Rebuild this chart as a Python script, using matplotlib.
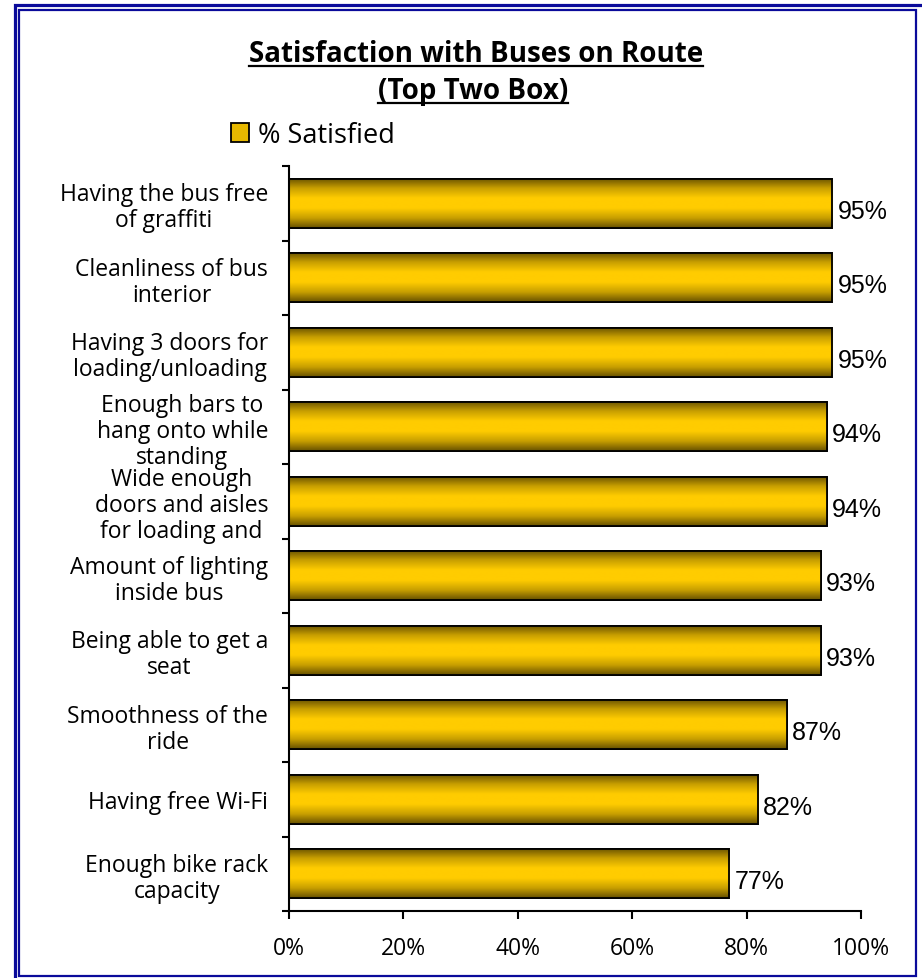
import numpy as np
import matplotlib
matplotlib.use("Agg")
import matplotlib.pyplot as plt
from matplotlib.colors import LinearSegmentedColormap
from matplotlib.patches import Rectangle, Patch
from matplotlib.lines import Line2D

# Data (top to bottom)
categories = [
    "Having the bus free\nof graffiti",
    "Cleanliness of bus\ninterior",
    "Having 3 doors for\nloading/unloading",
    "Enough bars to\nhang onto while\nstanding",
    "Wide enough\ndoors and aisles\nfor loading and",
    "Amount of lighting\ninside bus",
    "Being able to get a\nseat",
    "Smoothness of the\nride",
    "Having free Wi-Fi",
    "Enough bike rack\ncapacity",
]
satisfied = [95, 95, 95, 94, 94, 93, 93, 87, 82, 77]
xticks = [0, 20, 40, 60, 80, 100]
xtick_labels = ["0%", "20%", "40%", "60%", "80%", "100%"]

W, H = 922, 979
fig = plt.figure(figsize=(W / 100, H / 100), dpi=100)
fig.patch.set_facecolor("white")

lab_font = "Open Sans"
num_font = "Liberation Sans"

# double blue frame
fig.add_artist(Rectangle((14.5 / W, 1 - 990 / H), (940 - 14.5) / W, (990 - 5.5) / H,
                         transform=fig.transFigure, fill=False, edgecolor="#0a0a9a", lw=2.3))
fig.add_artist(Rectangle((19 / W, 1 - 977 / H), (916 - 19) / W, (977 - 11) / H,
                         transform=fig.transFigure, fill=False, edgecolor="#0a0a9a", lw=1.6))

ax = fig.add_axes([289 / W, 1 - 912 / H, 572 / W, 745 / H])
y = np.arange(len(categories))
bars = ax.barh(y, satisfied, height=0.66, color="#ffcc00", edgecolor="black", linewidth=1.3, zorder=2)

# vertical gold gradient on each bar
cmap = LinearSegmentedColormap.from_list("gold", ["#665000", "#c89f00", "#ffcc00", "#ffcc00", "#c89f00", "#665000"])
grad = np.linspace(0, 1, 256).reshape(-1, 1)
for b in bars:
    x0, y0, w, h = b.get_x(), b.get_y(), b.get_width(), b.get_height()
    im = ax.imshow(grad, extent=(x0, x0 + w, y0 + h, y0), aspect="auto", cmap=cmap, zorder=2.5)
    im.set_clip_path(b)
    ax.add_patch(Rectangle((x0, y0), w, h, fill=False, edgecolor="black", lw=1.3, zorder=3))

for yi, v in zip(y, satisfied):
    ax.text(v + 0.9, yi + 0.1, f"{v}%", va="center", ha="left", fontsize=18, family=num_font)

ax.set_xlim(0, 100)
ax.set_ylim(len(categories) - 0.5, -0.5)
ax.set_xticks(xticks)
ax.set_xticklabels(xtick_labels, fontsize=16.5, family=lab_font)
ax.tick_params(axis="x", length=6, width=1.5, direction="out", pad=12)

ax.set_yticks(np.arange(len(categories) + 1) - 0.5)
ax.set_yticklabels([])
ax.tick_params(axis="y", which="major", length=5, width=1.5, direction="out")
ax.set_yticks(y, minor=True)
ax.set_yticklabels(categories, minor=True, fontsize=16.5, family=lab_font,
                   multialignment="center", linespacing=1.12)
ax.tick_params(axis="y", which="minor", length=0, pad=15)

for s in ["top", "right"]:
    ax.spines[s].set_visible(False)
for s in ["left", "bottom"]:
    ax.spines[s].set_linewidth(1.5)

# title with underline
t1 = fig.text(476 / W, 1 - 55 / H, "Satisfaction with Buses on Route", ha="center", va="center",
              fontsize=20, fontweight="bold", family=lab_font)
t2 = fig.text(473 / W, 1 - 92 / H, "(Top Two Box)", ha="center", va="center",
              fontsize=20, fontweight="bold", family=lab_font)

fig.legend(handles=[Patch(facecolor="#e6b800", edgecolor="black", linewidth=1.3)],
           labels=["% Satisfied"], loc="center left",
           bbox_to_anchor=(231 / W, 1 - 136 / H), frameon=False, borderpad=0,
           borderaxespad=0, handlelength=0.65, handleheight=0.65, handletextpad=0.35,
           prop={"family": lab_font, "size": 19.5})

fig.canvas.draw()
r = fig.canvas.get_renderer()
for t, yc in [(t1, 55), (t2, 92)]:
    bb = t.get_window_extent(r)
    yline = 1 - (yc + 12) / H
    fig.add_artist(Line2D([bb.x0 / W, bb.x1 / W], [yline, yline], transform=fig.transFigure,
                          color="black", lw=1.6))

fig.savefig("out.png", dpi=100)
